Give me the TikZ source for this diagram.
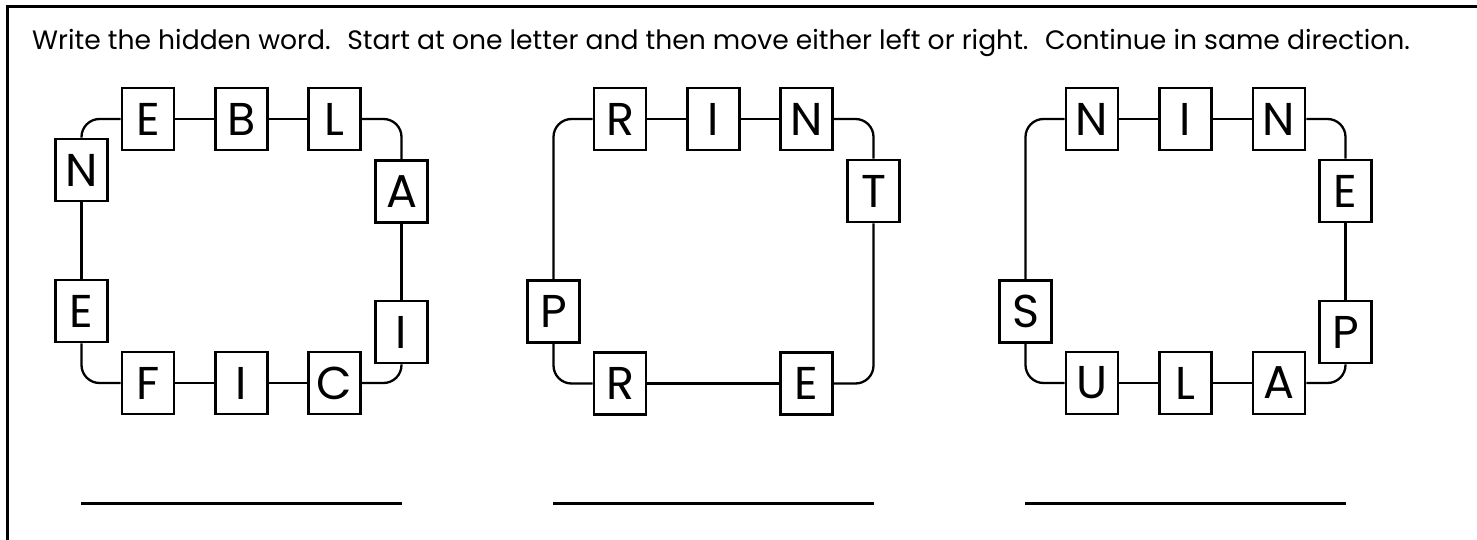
\documentclass[tikz,border=0pt]{standalone}
\usepackage{fontspec}
\setmainfont{Poppins}

\begin{document}
\begin{tikzpicture}[
        x=1pt, y=-1pt,
        letter/.style={draw, line width=2.7pt, fill=white, minimum width=52pt, minimum height=62pt, inner sep=0pt, font=\fontsize{46}{46}\selectfont},
        link/.style={draw, line width=2.3pt, rounded corners=18pt},
        answer/.style={draw, line width=3pt}
    ]
 \useasboundingbox (0,0) rectangle (1477,540);
 \draw[line width=3pt] (7,7) rectangle (1500,560);
 \node[anchor=base west, inner sep=0pt, font=\fontsize{26.6}{26.6}\selectfont] (title) at (32,50)
     {Write the hidden word.~ Start at one letter and then move either left or right.~ Continue in same direction.};
 % first word
 \node[letter] (a1) at (81.5,170) {N};
 \node[letter] (a2) at (148,119) {E};
 \node[letter] (a3) at (241.5,119) {B};
 \node[letter] (a4) at (334.5,119) {L};
 \node[letter] (a5) at (401.5,191.5) {A};
 \node[letter] (a6) at (401.5,332) {I};
 \node[letter] (a7) at (334.5,383) {C};
 \node[letter] (a8) at (241.5,383) {I};
 \node[letter] (a9) at (148,383) {F};
 \node[letter] (a10) at (81.5,311) {E};
 \draw[link] (a1.north) |- (a2.west);
 \draw[link] (a2) -- (a3);
 \draw[link] (a3) -- (a4);
 \draw[link] (a4.east) -| (a5.north);
 \draw[link] (a5) -- (a6);
 \draw[link] (a6.south) |- (a7.east);
 \draw[link] (a7) -- (a8);
 \draw[link] (a8) -- (a9);
 \draw[link] (a9.west) -| (a10.south);
 \draw[link] (a10) -- (a1);
 % second word
 \node[letter] (b1) at (620,119) {R};
 \node[letter] (b2) at (713.5,119) {I};
 \node[letter] (b3) at (806.5,119) {N};
 \node[letter] (b4) at (873.5,191) {T};
 \node[letter] (b5) at (806.5,383.5) {E};
 \node[letter] (b6) at (620,383.5) {R};
 \node[letter] (b7) at (553.5,311.5) {P};
 \draw[link] (b1) -- (b2);
 \draw[link] (b2) -- (b3);
 \draw[link] (b3.east) -| (b4.north);
 \draw[link] (b4.south) |- (b5.east);
 \draw[link] (b5) -- (b6);
 \draw[link] (b6.west) -| (b7.south);
 \draw[link] (b7.north) |- (b1.west);
 % third word
 \node[letter] (c1) at (1092,119) {N};
 \node[letter] (c2) at (1185.5,119) {I};
 \node[letter] (c3) at (1279,119) {N};
 \node[letter] (c4) at (1345.5,191) {E};
 \node[letter] (c5) at (1345.5,332) {P};
 \node[letter] (c6) at (1279,383) {A};
 \node[letter] (c7) at (1185.5,383) {L};
 \node[letter] (c8) at (1092,383) {U};
 \node[letter] (c9) at (1025.5,311.5) {S};
 \draw[link] (c1) -- (c2);
 \draw[link] (c2) -- (c3);
 \draw[link] (c3.east) -| (c4.north);
 \draw[link] (c4) -- (c5);
 \draw[link] (c5.south) |- (c6.east);
 \draw[link] (c6) -- (c7);
 \draw[link] (c7) -- (c8);
 \draw[link] (c8.west) -| (c9.south);
 \draw[link] (c9.north) |- (c1.west);
 % answer lines
 \coordinate (l1) at (81,503);
 \coordinate (r1) at (402,503);
 \coordinate (l2) at (553,503);
 \coordinate (r2) at (874,503);
 \coordinate (l3) at (1025,503);
 \coordinate (r3) at (1346,503);
 \draw[answer] (l1) -- (r1);
 \draw[answer] (l2) -- (r2);
 \draw[answer] (l3) -- (r3);
\end{tikzpicture}
\end{document}
